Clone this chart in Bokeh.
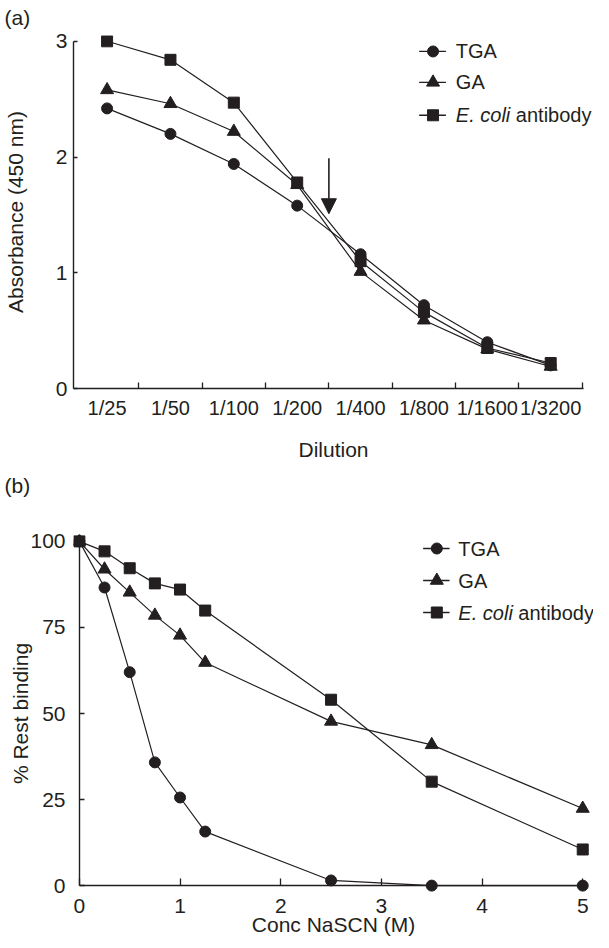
from bokeh.plotting import figure
from bokeh.layouts import column
from bokeh.models import FixedTicker, Label, Arrow, NormalHead, Range1d, LinearAxis, Title
from bokeh.embed import file_html
from bokeh.resources import INLINE

INK = "#231f20"
FONT = "Liberation Sans"
FS = "21px"

# ---------------- data: panel (a) ----------------
dilutions = ["1/25", "1/50", "1/100", "1/200", "1/400", "1/800", "1/1600", "1/3200"]
abs_tga = [2.42, 2.20, 1.94, 1.58, 1.16, 0.72, 0.40, 0.20]
abs_ga = [2.58, 2.46, 2.22, 1.76, 1.01, 0.59, 0.34, 0.19]
abs_ecoli = [3.00, 2.84, 2.47, 1.78, 1.10, 0.66, 0.35, 0.22]
abs_yticks = [0, 1, 2, 3]
arrow_dilution_pos = 3.5          # between 1/200 and 1/400
arrow_abs = [1.99, 1.51]          # arrow start / end (absorbance)

# ---------------- data: panel (b) ----------------
nascn = [0, 0.25, 0.5, 0.75, 1.0, 1.25, 2.5, 3.5, 5.0]
rb_tga = [100, 86.6, 62.0, 35.8, 25.6, 15.7, 1.5, 0, 0]
rb_ga = [100, 91.9, 85.2, 78.5, 72.7, 64.8, 47.7, 40.9, 22.4]
rb_ecoli = [100, 97.1, 92.2, 87.8, 86.0, 79.9, 54.0, 30.2, 10.5]
rb_yticks = [0, 25, 50, 75, 100]
nascn_ticks = [0, 1, 2, 3, 4, 5]

markers = ["circle", "triangle", "square"]
msizes = [11, 13, 11]

W = 593
PAGE_X = 8      # horizontal page margin
PAGE_Y = 0      # observed vertical offset of the first figure


def style_axis(ax, fs=FS):
    ax.axis_line_color = INK
    ax.axis_line_width = 1.4
    ax.major_tick_line_color = INK
    ax.major_tick_line_width = 1.3
    ax.minor_tick_line_color = INK
    ax.minor_tick_line_width = 1.3
    ax.major_label_text_font = FONT
    ax.major_label_text_font_size = fs
    ax.major_label_text_color = INK
    ax.axis_label_text_font = FONT
    ax.axis_label_text_font_size = FS
    ax.axis_label_text_font_style = "normal"
    ax.axis_label_text_color = INK
    ax.major_tick_out = 0
    ax.minor_tick_out = 0


def make_fig(h, xr, yr, left, right, top, bottom):
    p = figure(width=W, height=h, x_range=xr, y_range=yr,
               output_backend="svg", toolbar_location=None,
               min_border_left=left, min_border_right=right,
               min_border_top=top, min_border_bottom=bottom)
    p.outline_line_color = None
    p.grid.visible = False
    p.background_fill_color = "white"
    p.border_fill_color = "white"
    style_axis(p.xaxis[0])
    style_axis(p.yaxis[0])
    return p


def text(p, x, y, s, style="normal", xoff=0):
    p.add_layout(Label(x=x, y=y, text=s, text_align="left",
                       text_baseline="middle", text_font=FONT,
                       text_font_size="20px", text_color=INK,
                       text_font_style=style, x_offset=xoff))


def legend(p, cx, x0, x1, xt, rows):
    names = ["TGA", "GA", None]
    for i, yv in enumerate(rows):
        p.segment(x0=[x0], y0=[yv], x1=[x1], y1=[yv], line_color=INK, line_width=1.3)
        p.scatter(x=[cx], y=[yv], marker=markers[i], size=msizes[i],
                  fill_color=INK, line_color=INK)
        if names[i]:
            text(p, xt, yv, names[i])
        else:
            text(p, xt, yv, "E. coli", style="italic")
            text(p, xt, yv, "antibody", xoff=60)


def panel_title(p, s, offset, standoff, side):
    p.add_layout(Title(text=s, align="left", offset=offset, vertical_align="top",
                       standoff=standoff, text_font=FONT, text_font_size=FS,
                       text_font_style="normal", text_color=INK), side)


# ================= panel (a) =================
HA = 511
a_left, a_right, a_top, a_bottom = 68, 0, 34, HA - 388
A_PX = 63.98                    # pixels per category step
xa = Range1d(-0.53, -0.53 + (W - a_left - a_right) / A_PX)
ya = Range1d(0, 3.05)
pa = make_fig(HA, xa, ya, a_left, a_right, a_top, a_bottom)
fa_l, fa_r, fa_t, fa_b = a_left, W - a_right, a_top, HA - a_bottom
page_a = PAGE_Y


def axx(px):
    return xa.start + (px - PAGE_X - fa_l) / (fa_r - fa_l) * (xa.end - xa.start)


def axy(py):
    return ya.start + (fa_b - (py - page_a)) / (fa_b - fa_t) * (ya.end - ya.start)


xpos = list(range(len(dilutions)))
pa.xaxis.ticker = FixedTicker(ticks=xpos, minor_ticks=[i + 0.5 for i in xpos])
pa.xaxis.major_label_overrides = {i: d for i, d in enumerate(dilutions)}
pa.xaxis.major_label_text_font_size = "20px"
pa.xaxis.major_tick_in = 0
pa.xaxis.minor_tick_in = 6
pa.xaxis.major_label_standoff = 8
pa.xaxis.bounds = (xa.start, 7.52)
pa.xaxis.axis_label = "Dilution"
pa.xaxis.axis_label_standoff = 16
pa.yaxis.ticker = FixedTicker(ticks=abs_yticks, minor_ticks=[])
pa.yaxis.bounds = (0, 3)
pa.yaxis.major_tick_in = 4
pa.yaxis.major_label_standoff = 6
pa.yaxis.axis_label = "Absorbance (450 nm)"
pa.yaxis.axis_label_standoff = 26

for ys, m, s in zip([abs_tga, abs_ga, abs_ecoli], markers, msizes):
    pa.line(xpos, ys, line_color=INK, line_width=1.2)
    pa.scatter(xpos, ys, marker=m, size=s, fill_color=INK, line_color=INK)

pa.add_layout(Arrow(x_start=arrow_dilution_pos, y_start=arrow_abs[0],
                    x_end=arrow_dilution_pos, y_end=arrow_abs[1],
                    line_color=INK, line_width=1.6,
                    end=NormalHead(size=15, fill_color=INK, line_color=INK)))

legend(pa, axx(439), axx(425), axx(452), axx(462), [axy(50), axy(81), axy(114)])
panel_title(pa, "(a)", -69, 10, "above")
panel_title(pa, "(b)", -69, 21, "below")   # heading of the lower panel

# ================= panel (b) =================
page_b = PAGE_Y + HA
HB = 940 - page_b
b_left, b_right, b_top = 62, 0, 534 - page_b
b_bottom = HB - (892 - page_b)
B_PX = 102.8                    # pixels per 1 M
xb = Range1d(-6 / B_PX, -6 / B_PX + (W - b_left - b_right) / B_PX)
yb = Range1d(-2, 102)
pb = make_fig(HB, xb, yb, b_left, b_right, b_top, b_bottom)
fb_l, fb_r, fb_t, fb_b = b_left, W - b_right, b_top, HB - b_bottom


def bxx(px):
    return xb.start + (px - PAGE_X - fb_l) / (fb_r - fb_l) * (xb.end - xb.start)


def bxy(py):
    return yb.start + (fb_b - (py - page_b)) / (fb_b - fb_t) * (yb.end - yb.start)


# label-only axes at the frame edges
for ax, ticks in ((pb.xaxis[0], nascn_ticks), (pb.yaxis[0], rb_yticks)):
    ax.ticker = FixedTicker(ticks=ticks, minor_ticks=[])
    ax.axis_line_color = None
    ax.major_tick_line_color = None
    ax.minor_tick_line_color = None
pb.xaxis.major_label_standoff = 6
pb.xaxis.axis_label = "Conc NaSCN (M)"
pb.xaxis.axis_label_standoff = -3
pb.yaxis.major_label_standoff = 8
pb.yaxis.axis_label = "% Rest binding"
pb.yaxis.axis_label_standoff = -5

# line + tick axes crossing at the data origin (ticks only, no labels)
xl = LinearAxis(ticker=FixedTicker(ticks=[], minor_ticks=nascn_ticks))
style_axis(xl)
xl.fixed_location = 0
xl.bounds = (0, 5)
xl.minor_tick_in = 7
xl.major_label_standoff = 0
pb.add_layout(xl, "below")
yl = LinearAxis(ticker=FixedTicker(ticks=[], minor_ticks=rb_yticks))
style_axis(yl)
yl.fixed_location = 0
yl.bounds = (0, 100)
yl.minor_tick_in = 5
yl.major_label_standoff = 0
pb.add_layout(yl, "left")

for ys, m, s in zip([rb_tga, rb_ga, rb_ecoli], markers, msizes):
    pb.line(nascn, ys, line_color=INK, line_width=1.2)
    pb.scatter(nascn, ys, marker=m, size=s, fill_color=INK, line_color=INK)

legend(pb, bxx(441), bxx(427), bxx(454), bxx(463), [bxy(548), bxy(580), bxy(612)])

layout = column(pa, pb)
open("out.html", "w").write(file_html(layout, INLINE))
